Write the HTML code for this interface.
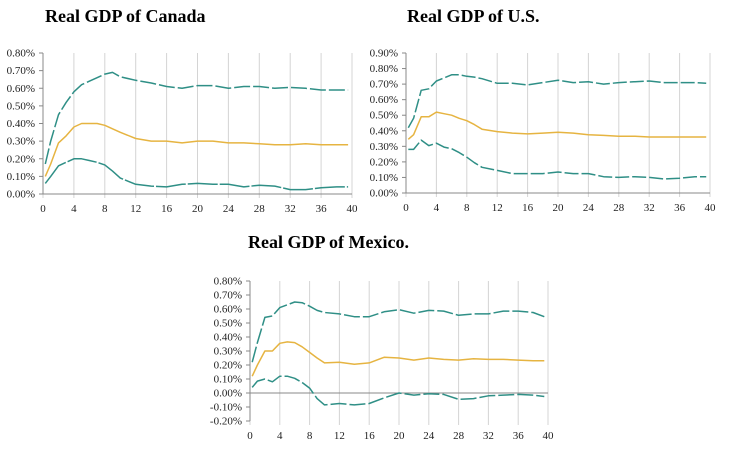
<!DOCTYPE html>
<html><head><meta charset="utf-8"><style>
body{margin:0;background:#fff;width:742px;height:473px;overflow:hidden}
svg{position:absolute;left:0;top:0}
.t{font-family:"Liberation Serif",serif;font-weight:bold;font-size:18px;fill:#000}
.tk{font-family:"Liberation Serif",serif;font-size:11px;fill:#222}
</style></head><body>
<svg id="s" width="742" height="473">
<text class="t" x="45" y="22">Real GDP of Canada</text>
<text class="t" x="407" y="22">Real GDP of U.S.</text>
<text class="t" x="248" y="248">Real GDP of Mexico.</text>
</svg>
<script>
const xs=[0.3,1,2,3,4,5,6,7,8,9,10,12,14,16,18,20,22,24,26,28,30,32,34,36,38,39.5];
const xTicks=[0,4,8,12,16,20,24,28,32,36,40];
const caUpper=[.17,.30,.45,.52,.58,.62,.64,.66,.68,.69,.665,.645,.63,.61,.60,.615,.615,.60,.61,.61,.60,.605,.60,.59,.59,.59];
const caMid=[.10,.17,.29,.33,.38,.40,.40,.40,.39,.37,.35,.315,.30,.30,.29,.30,.30,.29,.29,.285,.28,.28,.285,.28,.28,.28];
const caLower=[.06,.10,.16,.18,.20,.20,.19,.18,.165,.13,.09,.055,.045,.04,.055,.06,.055,.055,.04,.05,.045,.025,.025,.035,.04,.04];
const usUpper=[.42,.48,.66,.67,.72,.74,.76,.76,.75,.745,.735,.705,.705,.695,.71,.725,.71,.715,.70,.71,.715,.72,.71,.71,.71,.705];
const usMid=[.345,.375,.49,.49,.52,.51,.50,.48,.465,.44,.41,.395,.385,.38,.385,.39,.385,.375,.37,.365,.365,.36,.36,.36,.36,.36];
const usLower=[.28,.28,.34,.305,.32,.295,.285,.26,.23,.195,.165,.145,.125,.125,.125,.135,.125,.125,.105,.10,.105,.10,.09,.095,.105,.105];
const mxUpper=[.22,.36,.54,.55,.61,.63,.65,.645,.62,.59,.575,.565,.545,.545,.58,.595,.57,.59,.585,.555,.565,.565,.585,.585,.575,.545];
const mxMid=[.12,.20,.30,.30,.355,.365,.36,.33,.29,.25,.215,.22,.205,.215,.255,.25,.235,.25,.24,.235,.245,.24,.24,.235,.23,.23];
const mxLower=[.04,.085,.10,.08,.12,.12,.105,.075,.035,-.04,-.085,-.075,-.085,-.075,-.035,0,-.015,-.005,-.01,-.045,-.04,-.02,-.015,-.01,-.015,-.025];
const caTicks=[0,.1,.2,.3,.4,.5,.6,.7,.8];
const usTicks=[0,.1,.2,.3,.4,.5,.6,.7,.8,.9];
const mxTicks=[-.2,-.1,0,.1,.2,.3,.4,.5,.6,.7,.8];
const S=document.getElementById('s'),NS='http://www.w3.org/2000/svg';
function mk(t,a){const e=document.createElementNS(NS,t);for(const k in a)e.setAttribute(k,a[k]);S.appendChild(e);return e;}
function chart(id,L,R,T,B,yt,series){
  const ymin=yt[0],ymax=yt[yt.length-1];
  const X=v=>L+(R-L)*v/40, Y=v=>B-(B-T)*(v-ymin)/(ymax-ymin);
  xTicks.forEach(t=>{const l=mk('line',{x1:X(t),x2:X(t),y1:T,y2:B+4,stroke:'#d4d4d4','stroke-width':1});
    
    const tx=mk('text',{x:X(t),y:B+18,'text-anchor':'middle',class:'tk'});tx.textContent=t;
    });
  yt.forEach(t=>{const l=mk('line',{x1:L-4,x2:L,y1:Y(t),y2:Y(t),stroke:'#888','stroke-width':1});
    
    let s=t.toFixed(2); if(s==='-0.00')s='0.00';
    const tx=mk('text',{x:L-8,y:Y(t)+3.5,'text-anchor':'end',class:'tk'});tx.textContent=s+'%';
    });
  const ax=mk('line',{x1:L,x2:L,y1:T,y2:B,stroke:'#888'});
  
  const zx=mk('line',{x1:L,x2:R,y1:Y(0),y2:Y(0),stroke:'#888'});
  
  series.forEach(([nm,d,c,dash])=>{
    const p=mk('polyline',{points:d.map((v,i)=>X(xs[i]).toFixed(1)+','+Y(v).toFixed(1)).join(' '),fill:'none',stroke:c,'stroke-width':1.5,'stroke-dasharray':dash,'stroke-linejoin':'round'});
    });
}
const TE='#2f8f86',OR='#e6b441';
chart('canada',43,352,53,194,caTicks,[['upper',caUpper,TE,'16 3'],['mid',caMid,OR,'none'],['lower',caLower,TE,'30 2']]);
chart('us',406,710,53,193,usTicks,[['upper',usUpper,TE,'14 3'],['mid',usMid,OR,'none'],['lower',usLower,TE,'14 3']]);
chart('mexico',250,548,281,421,mxTicks,[['upper',mxUpper,TE,'16 3'],['mid',mxMid,OR,'none'],['lower',mxLower,TE,'16 3']]);
</script>
</body></html>
